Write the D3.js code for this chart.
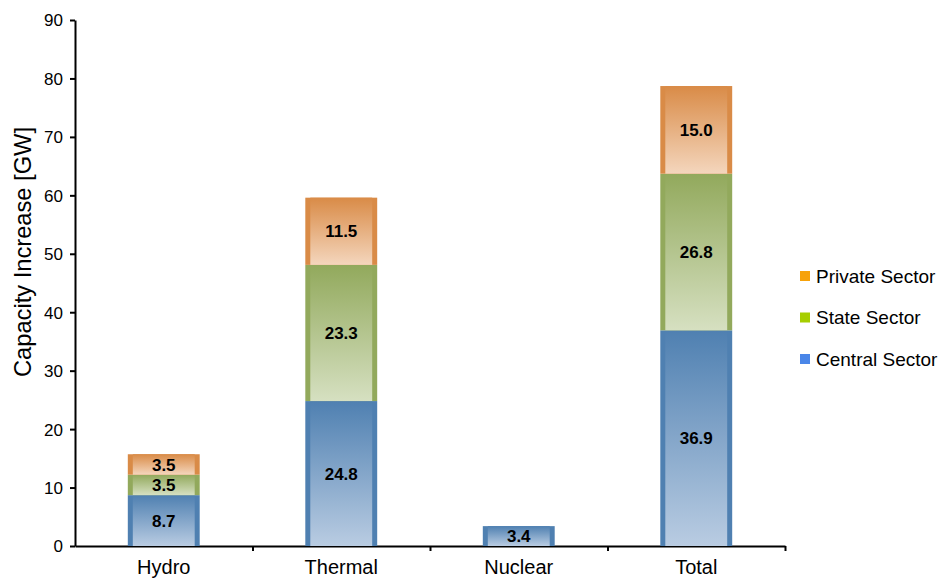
<!DOCTYPE html>
<html><head><meta charset="utf-8">
<script src="https://cdn.jsdelivr.net/npm/d3@7"></script>
<style>body{margin:0;background:#fff;} text{font-family:"Liberation Sans",Arial,sans-serif;}</style>
</head><body>
<svg id="chart" width="944" height="578"></svg>
<script>
const categories = ["Hydro", "Thermal", "Nuclear", "Total"];
const seriesNames = ["Central Sector", "State Sector", "Private Sector"];
const central = [8.7, 24.8, 3.4, 36.9];
const state = [3.5, 23.3, 0, 26.8];
const privateS = [3.5, 11.5, 0, 15.0];
const yTicks = [0, 10, 20, 30, 40, 50, 60, 70, 80, 90];

const svg = d3.select("#chart");
const x = d3.scaleBand().domain(categories).range([75, 785]).paddingInner(0.595).paddingOuter(0.2975);
const y = d3.scaleLinear().domain([0, 90]).range([546, 20]);

const shades = {
  "Central Sector": {dark: "#4f80b1", light: "#b9cce2", legend: "#4a86e8"},
  "State Sector": {dark: "#92a95c", light: "#d6e0c1", legend: "#a6ce00"},
  "Private Sector": {dark: "#d98b47", light: "#f4d6bd", legend: "#f7a20a"}
};
const defs = svg.append("defs");
seriesNames.forEach((s, i) => {
  const g = defs.append("linearGradient").attr("id", "g" + i).attr("x1", 0).attr("y1", 0).attr("x2", 0).attr("y2", 1);
  g.append("stop").attr("offset", "0%").attr("stop-color", shades[s].dark);
  g.append("stop").attr("offset", "100%").attr("stop-color", shades[s].light);
});

const values = {"Central Sector": central, "State Sector": state, "Private Sector": privateS};
const table = categories.map((c, i) => {
  const o = {cat: c};
  seriesNames.forEach(s => o[s] = values[s][i]);
  return o;
});
const stacked = d3.stack().keys(seriesNames)(table);

// axes
const yAxis = svg.append("g").attr("transform", "translate(75,0)")
  .call(d3.axisLeft(y).tickValues(yTicks).tickSize(5).tickSizeOuter(0));
yAxis.select(".domain").attr("stroke", "#000").attr("stroke-width", 2);
yAxis.selectAll(".tick line").attr("stroke", "#000").attr("stroke-width", 2);
yAxis.selectAll(".tick text").attr("font-size", 17).attr("fill", "#000").attr("x", -12).attr("dy", "0.35em");

const bx = d3.scaleLinear().domain([0, categories.length]).range([75, 785]);
const xAxis = svg.append("g").attr("transform", "translate(0,546)")
  .call(d3.axisBottom(bx).tickValues(d3.range(1, categories.length + 1)).tickSize(5).tickSizeOuter(0).tickFormat(""));
xAxis.select(".domain").attr("stroke", "#000").attr("stroke-width", 2);
xAxis.selectAll(".tick line").attr("stroke", "#000").attr("stroke-width", 2);

svg.append("g").selectAll("text").data(categories).join("text")
  .attr("x", d => x(d) + x.bandwidth() / 2).attr("y", 574)
  .attr("text-anchor", "middle").attr("font-size", 20).attr("fill", "#000").text(d => d);

// bars
const side = 5;
stacked.forEach((layer, i) => {
  const s = layer.key;
  const g = svg.append("g");
  layer.forEach(d => {
    const v = d[1] - d[0];
    if (v <= 0) return;
    const cx = x(d.data.cat);
    const top = y(d[1]), bot = y(d[0]);
    g.append("rect").attr("x", cx).attr("y", top).attr("width", x.bandwidth()).attr("height", bot - top)
      .attr("fill", shades[s].dark);
    g.append("rect").attr("x", cx + side).attr("y", top).attr("width", x.bandwidth() - 2 * side).attr("height", bot - top)
      .attr("fill", "url(#g" + i + ")");
    g.append("text").attr("x", cx + x.bandwidth() / 2).attr("y", (top + bot) / 2).attr("dy", "0.36em")
      .attr("text-anchor", "middle").attr("font-size", 17).attr("font-weight", "bold").attr("fill", "#000")
      .text(v.toFixed(1));
  });
});

// y title
svg.append("text").attr("transform", "translate(31,252) rotate(-90)")
  .attr("text-anchor", "middle").attr("font-size", 24).attr("fill", "#000")
  .attr("textLength", 250).attr("lengthAdjust", "spacingAndGlyphs").text("Capacity Increase [GW]");

// legend
const legendOrder = ["Private Sector", "State Sector", "Central Sector"];
const lg = svg.append("g").selectAll("g").data(legendOrder).join("g")
  .attr("transform", (d, i) => `translate(800,${271 + i * 41.5})`);
lg.append("rect").attr("width", 10).attr("height", 10).attr("fill", d => shades[d].legend);
lg.append("text").attr("x", 16).attr("y", 5).attr("dy", "0.36em").attr("font-size", 19).attr("fill", "#000").text(d => d);
</script>
</body></html>
